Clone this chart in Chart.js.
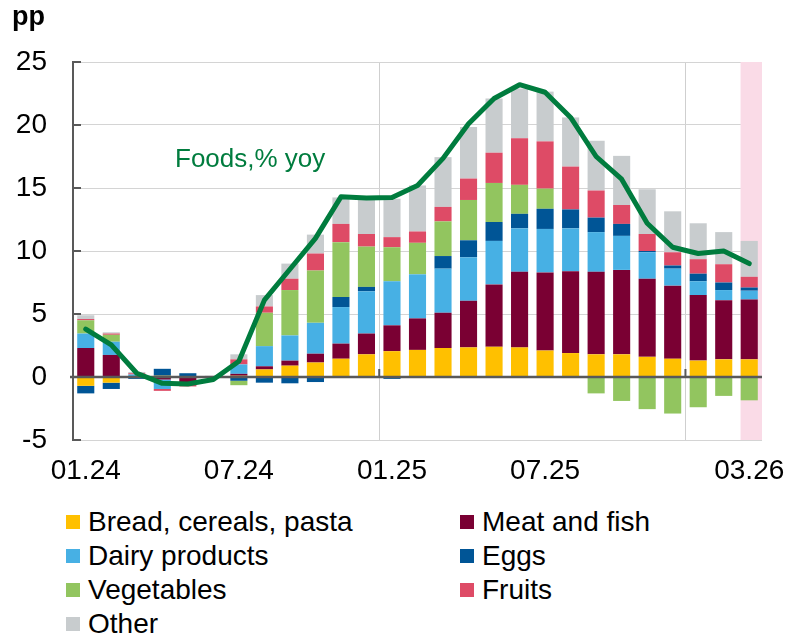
<!DOCTYPE html>
<html>
<head>
<meta charset="utf-8">
<title>Foods, contributions pp</title>
<style>
  * { margin: 0; padding: 0; box-sizing: border-box; }
  body { background: #fff; font-family: "Liberation Sans", Arial, sans-serif; }
  #wrap { position: relative; width: 788px; height: 636px; overflow: hidden; }
  #chartBox { position: absolute; left: 0; top: 0; width: 788px; height: 500px; }
  #legend { position: absolute; left: 0; top: 505px; width: 788px; }
  .row { position: relative; height: 34px; line-height: 34px; font-size: 28px; color: #000; }
  .item { position: absolute; top: 0; display: flex; align-items: center; white-space: nowrap; }
  .sw { width: 14px; height: 14px; margin-right: 8px; }
</style>
</head>
<body>
<div id="wrap">
  <div id="chartBox"><canvas id="foodChart" width="788" height="500"></canvas></div>
  <div id="legend"></div>
</div>
<script src="https://cdn.jsdelivr.net/npm/chart.js"></script>
<script>
// months
const labels = ['01.24','02.24','03.24','04.24','05.24','06.24','07.24','08.24','09.24','10.24','11.24','12.24',
                '01.25','02.25','03.25','04.25','05.25','06.25','07.25','08.25','09.25','10.25','11.25','12.25',
                '01.26','02.26','03.26'];
const shownTicks = [0, 6, 12, 18, 26];

// contributions, pp
const bread  = [-0.7,-0.45,0,0.1,0,0.05,0.1,0.6,0.9,1.15,1.45,1.8,2.05,2.15,2.3,2.35,2.4,2.35,2.1,1.9,1.8,1.8,1.6,1.45,1.3,1.4,1.4];
const meat   = [2.3,1.75,0,-0.2,-0.5,-0.05,0.15,0.25,0.4,0.7,1.2,1.65,2.05,2.5,2.8,3.7,4.95,6.0,6.2,6.5,6.55,6.7,6.2,5.8,5.2,4.7,4.75];
const dairy  = [1.15,1.05,0.2,-0.75,-0.1,0,0.75,1.6,2.0,2.45,2.9,3.35,3.5,3.5,3.5,3.45,3.45,3.45,3.45,3.4,3.15,2.7,2.1,1.35,1.1,0.8,0.7];
const eggs   = [-0.6,-0.5,-0.15,0.55,0.3,0,-0.3,-0.45,-0.5,-0.4,0.8,0.35,-0.15,0,1.0,1.35,1.5,1.15,1.6,1.5,1.15,0.95,0.1,0.25,0.6,0.6,0.25];
const veg    = [1.05,0.55,0,0,0,0,-0.35,2.65,3.6,4.15,4.35,3.2,2.7,2.5,2.75,3.2,3.1,2.3,1.6,0,-1.3,-1.9,-2.55,-2.9,-2.4,-1.5,-1.85];
const fruits = [0.1,0.1,0.1,-0.15,-0.15,0,0.4,0.5,0.9,1.35,1.45,1.0,0.8,0.9,1.15,1.7,2.4,3.7,3.75,3.4,2.15,1.5,1.35,1.05,1.15,1.45,0.85];
const other  = [0.3,0.1,0.1,0,0,0.05,0.4,0.9,1.2,1.5,2.1,2.7,3.05,3.65,3.95,4.1,4.3,3.95,3.95,3.9,3.95,3.9,3.55,3.25,2.85,2.55,2.85];
// foods, % yoy
const foods  = [3.8,2.55,0.3,-0.5,-0.55,-0.2,1.25,6.1,8.55,11.0,14.3,14.2,14.25,15.2,17.35,20.1,22.1,23.2,22.6,20.6,17.5,15.7,12.2,10.3,9.8,10.0,9.0];

const series = [
  { name: 'Bread, cereals, pasta', data: bread,  color: '#FFC000' },
  { name: 'Meat and fish',         data: meat,   color: '#7A0033' },
  { name: 'Dairy products',        data: dairy,  color: '#47B0E4' },
  { name: 'Eggs',                  data: eggs,   color: '#005596' },
  { name: 'Vegetables',            data: veg,    color: '#92C55F' },
  { name: 'Fruits',                data: fruits, color: '#DE4B66' },
  { name: 'Other',                 data: other,  color: '#C8CCCE' }
];
const lineColor = '#007C3E';
const lineIndex = series.length;

const datasets = series.map(s => ({
  type: 'bar',
  label: s.name,
  data: s.data,
  backgroundColor: s.color,
  borderWidth: 0,
  stack: 'food',
  order: 1,
  categoryPercentage: 1,
  barPercentage: 0.67
}));
datasets.push({
  type: 'line',
  label: 'Foods,% yoy',
  data: foods,
  borderColor: lineColor,
  borderWidth: 5,
  pointRadius: 0,
  tension: 0,
  borderCapStyle: 'round',
  borderJoinStyle: 'round',
  order: 0
});

const decor = {
  id: 'decor',
  beforeDatasetsDraw(chart) {
    const { ctx, chartArea: a, scales: { x } } = chart;
    const step = x.getPixelForValue(1) - x.getPixelForValue(0);
    const left = x.getPixelForValue(labels.length - 1) - step * 0.34;
    ctx.save();
    ctx.fillStyle = '#FADBE7';
    ctx.fillRect(left, a.top, a.right - left, a.bottom - a.top);
    ctx.restore();
  },
  beforeDatasetDraw(chart, args) {
    if (args.index !== lineIndex) return;
    const { ctx, chartArea: a, scales: { x, y } } = chart;
    const y0 = y.getPixelForValue(0);
    const step = x.getPixelForValue(1) - x.getPixelForValue(0);
    ctx.save();
    ctx.strokeStyle = '#595959';
    ctx.lineWidth = 2.5;
    ctx.beginPath();
    ctx.moveTo(a.left - 3, y0);
    ctx.lineTo(a.right, y0);
    ctx.stroke();
    // year marks on the zero line
    ctx.lineWidth = 2;
    [12, 24].forEach(i => {
      const px = x.getPixelForValue(i) - step / 2;
      ctx.beginPath();
      ctx.moveTo(px, y0);
      ctx.lineTo(px, y0 - 8);
      ctx.stroke();
    });
    // inward ticks on the left axis
    for (let v = -5; v <= 25; v += 5) {
      const py = y.getPixelForValue(v);
      ctx.beginPath();
      ctx.moveTo(a.left, py);
      ctx.lineTo(a.left + 8, py);
      ctx.stroke();
    }
    ctx.restore();
  },
  afterDraw(chart) {
    const { ctx } = chart;
    ctx.save();
    ctx.fillStyle = '#000';
    ctx.font = 'bold 27px "Liberation Sans", Arial, sans-serif';
    ctx.textBaseline = 'alphabetic';
    ctx.fillText('pp', 12, 25);
    ctx.fillStyle = lineColor;
    ctx.font = '26px "Liberation Sans", Arial, sans-serif';
    ctx.textBaseline = 'middle';
    ctx.fillText('Foods,% yoy', 175, 160);
    ctx.restore();
  }
};

new Chart(document.getElementById('foodChart'), {
  type: 'bar',
  data: { labels: labels, datasets: datasets },
  options: {
    responsive: false,
    animation: false,
    layout: { padding: { top: 62, right: 26, left: 0, bottom: 0 } },
    plugins: {
      legend: { display: false },
      tooltip: { enabled: false }
    },
    scales: {
      x: {
        stacked: true,
        offset: true,
        afterFit: s => { s.height = 60; s.paddingLeft = 0; s.paddingRight = 0; },
        border: { display: false },
        grid: {
          drawTicks: false,
          lineWidth: 1,
          color: c => (c.index === 12 || c.index === 24) ? '#cfcfcf' : 'rgba(0,0,0,0)'
        },
        ticks: {
          autoSkip: false,
          maxRotation: 0,
          padding: 14,
          color: '#000',
          font: { size: 28, family: '"Liberation Sans", Arial, sans-serif' },
          callback: (v, i) => shownTicks.includes(i) ? labels[i] : ''
        }
      },
      y: {
        stacked: true,
        min: -5,
        max: 25,
        afterFit: s => { s.width = 73; s.paddingTop = 0; s.paddingBottom = 0; },
        border: { color: '#595959', width: 2 },
        grid: {
          drawTicks: false,
          lineWidth: 1,
          color: c => c.tick && c.tick.value === 0 ? 'rgba(0,0,0,0)' : '#d4d4d4'
        },
        ticks: {
          stepSize: 5,
          padding: 26,
          color: '#000',
          font: { size: 28, family: '"Liberation Sans", Arial, sans-serif' }
        }
      }
    }
  },
  plugins: [decor]
});

// legend in two columns, like the original
const legend = document.getElementById('legend');
for (let r = 0; r < Math.ceil(series.length / 2); r++) {
  const row = document.createElement('div');
  row.className = 'row';
  [0, 1].forEach(c => {
    const s = series[r * 2 + c];
    if (!s) return;
    const item = document.createElement('div');
    item.className = 'item';
    item.style.left = (c === 0 ? 66 : 460) + 'px';
    item.innerHTML = '<span class="sw" style="background:' + s.color + '"></span><span>' + s.name + '</span>';
    row.appendChild(item);
  });
  legend.appendChild(row);
}
</script>
</body>
</html>
